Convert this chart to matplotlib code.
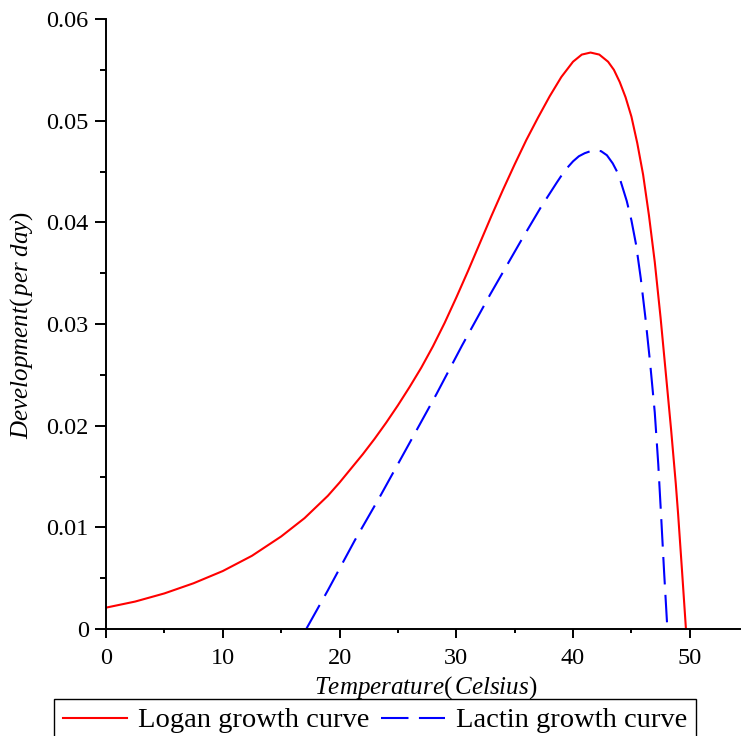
import matplotlib
matplotlib.use("Agg")
import matplotlib.pyplot as plt
from matplotlib.lines import Line2D
from matplotlib.ticker import FixedLocator, FixedFormatter

plt.rcParams['font.family'] = ['Liberation Serif', 'DejaVu Serif']
plt.rcParams['mathtext.fontset'] = 'custom'
plt.rcParams['mathtext.rm'] = 'Liberation Serif'
plt.rcParams['mathtext.it'] = 'Liberation Serif:italic'

# ---- data ----
logan_T = [0, 2.5, 5, 7.5, 10, 12.5, 15, 16, 17, 18, 19, 20, 21, 22, 23, 24, 25,
           26, 27, 28, 29, 30, 31, 32, 33, 34, 35, 36, 37, 38, 39, 40, 40.75,
           41.5, 42.25, 43, 43.5, 44, 44.5, 45, 45.5, 46, 46.5, 47, 47.5, 48,
           48.4, 48.8, 49.0, 49.33, 49.67]
logan_v = [0.0021, 0.0027, 0.0035, 0.0045, 0.0057, 0.0072, 0.0091, 0.0100, 0.0109,
           0.0120, 0.0131, 0.0144, 0.0158, 0.0172, 0.0187, 0.0203, 0.0220,
           0.0238, 0.0257, 0.0278, 0.0301, 0.0326, 0.0352, 0.0379, 0.0406, 0.0432,
           0.0457, 0.0481, 0.0503, 0.0524, 0.0543, 0.0558, 0.0565,
           0.0567, 0.0565, 0.0558, 0.0550, 0.0538, 0.0523, 0.0504, 0.0478, 0.0447,
           0.0407, 0.0361, 0.0306, 0.0245, 0.0196, 0.0143, 0.0113, 0.0058, 0.0]

lactin_T = [17.15, 19, 21.3, 23.5, 26, 28.3, 30.5, 32.9, 35.5, 37.2, 38.6, 39.3,
            40, 40.5, 41, 41.75, 42.4, 42.9, 43.4, 43.9, 44.6, 45.0, 45.4, 45.8,
            46.2, 46.6, 47.0, 47.3, 47.55, 47.8, 48.08]
lactin_v = [0.0, 0.0038, 0.0087, 0.0131, 0.0183, 0.0231, 0.0279, 0.0329, 0.0381,
            0.0414, 0.0439, 0.0451, 0.0460, 0.0465, 0.0468, 0.0471, 0.0470, 0.0466,
            0.0458, 0.0447, 0.0421, 0.0402, 0.0378, 0.0345, 0.0306, 0.0262, 0.0213,
            0.0162, 0.0110, 0.0056, 0.0]

x_ticks = [0, 10, 20, 30, 40, 50]
x_tick_labels = ['0', '10', '20', '30', '40', '50']
y_ticks = [0, 0.01, 0.02, 0.03, 0.04, 0.05, 0.06]
y_tick_labels = ['0', '0.01', '0.02', '0.03', '0.04', '0.05', '0.06']
series_names = ['Logan growth curve', 'Lactin growth curve']

W, H = 742, 736
fig = plt.figure(figsize=(W / 100, H / 100), dpi=100)
ax = fig.add_axes([106 / W, 1 - 629 / H, (740 - 106) / W, (629 - 19) / H])

dash = [13.2, 5.0]
ax.plot(logan_T, logan_v, color='#ff0000', lw=1.5, solid_joinstyle='round')
l2, = ax.plot(lactin_T, lactin_v, color='#0000ff', lw=1.5)
l2.set_dashes(dash)

ax.set_xlim(0, 54.3)
ax.set_ylim(0, 0.06)

for s in ['top', 'right']:
    ax.spines[s].set_visible(False)
for s in ['left', 'bottom']:
    ax.spines[s].set_linewidth(1.4)

ax.xaxis.set_major_locator(FixedLocator(x_ticks))
ax.xaxis.set_major_formatter(FixedFormatter(x_tick_labels))
ax.xaxis.set_minor_locator(FixedLocator([5, 15, 25, 35, 45]))
ax.yaxis.set_major_locator(FixedLocator(y_ticks))
ax.yaxis.set_major_formatter(FixedFormatter(y_tick_labels))
ax.yaxis.set_minor_locator(FixedLocator([0.005, 0.015, 0.025, 0.035, 0.045, 0.055]))

ax.tick_params(axis='x', which='major', direction='out', length=6.5, width=1.4,
               labelsize=17.5, pad=7)
ax.tick_params(axis='x', which='minor', direction='out', length=3, width=1.4)
ax.tick_params(axis='y', which='major', direction='out', length=8, width=1.4,
               labelsize=17.5, pad=4.5)
ax.tick_params(axis='y', which='minor', direction='out', length=4.3, width=1.4)

fig.text(426 / W, 1 - 688 / H,
         r'$\mathit{Temperature}\mathrm{(}\,\mathit{Celsius}\mathrm{)}$',
         ha='center', va='center', fontsize=18)
fig.text(22 / W, 1 - 325 / H,
         r'$\mathit{Development}\mathrm{(}\,\mathit{per\ day}\mathrm{)}$',
         ha='center', va='center', rotation=90, fontsize=18)

h1 = Line2D([], [], color='#ff0000', lw=1.5)
h2 = Line2D([], [], color='#0000ff', lw=1.5)
h2.set_dashes(dash)
leg = fig.legend([h1, h2], series_names, loc='upper left',
                 bbox_to_anchor=(54 / W, 1 - 699 / H), ncol=2, frameon=True,
                 fancybox=False, edgecolor='black', framealpha=1,
                 borderaxespad=0, fontsize=20.5, handlelength=2.25,
                 handletextpad=0.4, columnspacing=0.4, borderpad=0.3)
leg.get_frame().set_linewidth(1.0)

fig.savefig('out.png', dpi=100)
